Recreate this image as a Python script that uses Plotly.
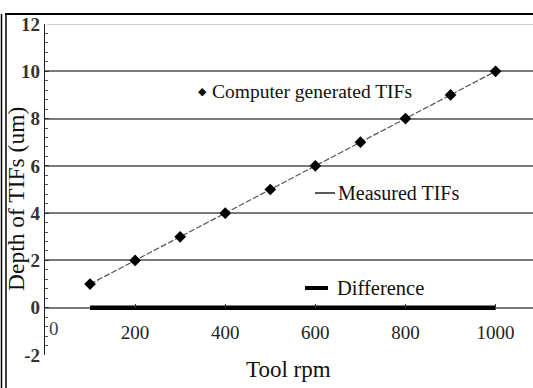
import plotly.graph_objects as go

rpm = [100, 200, 300, 400, 500, 600, 700, 800, 900, 1000]
computer_tifs = [1, 2, 3, 4, 5, 6, 7, 8, 9, 10]
measured_tifs = [1, 2, 3, 4, 5, 6, 7, 8, 9, 10]
difference = [0, 0, 0, 0, 0, 0, 0, 0, 0, 0]
x_ticks = [200, 400, 600, 800, 1000]
y_ticks = [-2, 0, 2, 4, 6, 8, 10, 12]

W, H = 533, 388
L, R, T, B = 45, 0, 24, 33
pw, ph = W - L - R, H - T - B

def px(p):
    return (p - L) / pw

def py(p):
    return (H - B - p) / ph

SERIF = "Liberation Serif"

fig = go.Figure()
fig.add_trace(go.Scatter(x=rpm, y=difference, mode="lines",
                         line=dict(color="black", width=4.5), showlegend=False))
fig.add_trace(go.Scatter(x=rpm, y=measured_tifs, mode="lines",
                         line=dict(color="#555", width=1.2, dash="6px,2px"), showlegend=False))
fig.add_trace(go.Scatter(x=rpm, y=computer_tifs, mode="markers",
                         marker=dict(symbol="diamond", size=9, color="black"), showlegend=False))

fig.update_layout(
    width=W, height=H, margin=dict(l=L, r=R, t=T, b=B),
    paper_bgcolor="white", plot_bgcolor="white",
    font=dict(family=SERIF, color="#111"),
    xaxis=dict(range=[0, 1083], tickvals=x_ticks, showgrid=False, zeroline=False,
               anchor="free", position=2 / 14, showline=False,
               ticks="inside", ticklen=4, tickcolor="#333", tickwidth=1,
               tickfont=dict(size=19, family=SERIF, color="#222"), ticklabelstandoff=11),
    yaxis=dict(range=[-2, 12], tickvals=y_ticks,
               ticktext=["<b>%d</b>" % v for v in y_ticks],
               showgrid=True, gridcolor="#7a7a7a", gridwidth=2,
               zeroline=False, showline=True, linecolor="#222", linewidth=1.2,
               ticks="inside", ticklen=4, tickcolor="#333",
               minor=dict(dtick=0.4, ticks="inside", ticklen=3, tickcolor="#555", showgrid=False),
               tickfont=dict(size=19, family=SERIF, color="#333"), ticklabelstandoff=0),
)

# light top gridline at 12
fig.add_shape(type="line", xref="paper", yref="y", x0=0.004, x1=1, y0=12, y1=12,
              line=dict(color="#cfcfcf", width=2), layer="above")

# frame lines
fig.add_shape(type="line", xref="paper", yref="paper", x0=px(5), x1=px(533), y0=py(14), y1=py(14),
              line=dict(color="black", width=2))
fig.add_shape(type="line", xref="paper", yref="paper", x0=px(1.5), x1=px(1.5), y0=py(14), y1=py(388),
              line=dict(color="black", width=1.5))
fig.add_shape(type="line", xref="paper", yref="paper", x0=px(6), x1=px(6), y0=py(14), y1=py(388),
              line=dict(color="black", width=1.5))

# "0" x tick label
fig.add_annotation(x=px(54), y=py(328), xref="paper", yref="paper", text="0", showarrow=False,
                   xanchor="center", yanchor="middle",
                   font=dict(size=19, family=SERIF, color="#444"))

# axis titles
fig.add_annotation(x=px(288), y=py(369), xref="paper", yref="paper", text="Tool rpm", showarrow=False,
                   xanchor="center", yanchor="middle",
                   font=dict(size=23, family=SERIF, color="#111"))
fig.add_annotation(x=px(16), y=py(199), xref="paper", yref="paper", text="Depth of TIFs (um)",
                   xanchor="center", yanchor="middle",
                   showarrow=False, textangle=-90, font=dict(size=23.5, family=SERIF, color="#111"))

# legend-like labels
fig.add_annotation(x=px(202), y=py(92), xref="paper", yref="paper", xanchor="center", yanchor="middle",
                   text="\u25c6", showarrow=False,
                   font=dict(size=11, family="DejaVu Sans", color="#111"))
fig.add_annotation(x=px(210), y=py(92), xref="paper", yref="paper", xanchor="left", yanchor="middle",
                   text="Computer generated TIFs", showarrow=False,
                   font=dict(size=19.5, family=SERIF, color="#111"))
fig.add_shape(type="line", xref="paper", yref="paper", x0=px(315), x1=px(335), y0=py(193), y1=py(193),
              line=dict(color="#222", width=1.5))
fig.add_annotation(x=px(336), y=py(193), xref="paper", yref="paper", xanchor="left", yanchor="middle",
                   text="Measured TIFs", showarrow=False,
                   font=dict(size=20, family=SERIF, color="#111"))
fig.add_shape(type="line", xref="paper", yref="paper", x0=px(305), x1=px(328), y0=py(288), y1=py(288),
              line=dict(color="black", width=4))
fig.add_annotation(x=px(335), y=py(288), xref="paper", yref="paper", xanchor="left", yanchor="middle",
                   text="Difference", showarrow=False,
                   font=dict(size=20.5, family=SERIF, color="#111"))

fig.write_html("out.html")
